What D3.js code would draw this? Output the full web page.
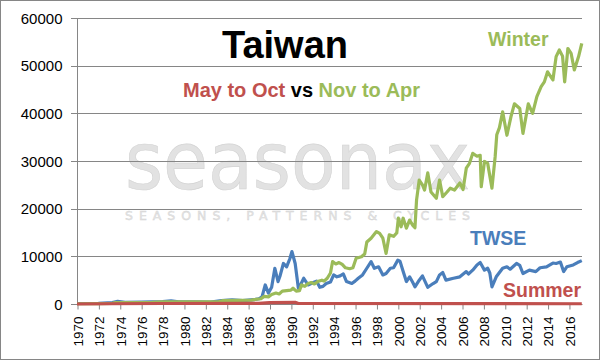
<!DOCTYPE html>
<html><head><meta charset="utf-8">
<script src="https://cdn.jsdelivr.net/npm/d3@7"></script>
<style>body{margin:0;background:#fff}svg{display:block}text{font-family:"Liberation Sans",Arial,sans-serif}</style>
</head><body><svg id="c" width="601" height="361"></svg>
<script>
const yTicks = [0,10000,20000,30000,40000,50000,60000];
const xTickYears = d3.range(1970, 2017, 2);

const twse = [[1970,100],[1972,150],[1973.3,300],[1973.8,550],[1974.5,350],[1976,400],[1978,500],[1978.8,650],[1979.5,450],[1981,450],[1982.5,400],[1983.5,700],[1984.5,850],[1985.5,700],[1986.5,900],[1987.0,1100],[1987.3,1500],[1987.6,4000],[1987.9,2300],[1988.2,3500],[1988.5,7500],[1988.8,4700],[1989.0,6000],[1989.3,8500],[1989.6,7800],[1989.9,9500],[1990.1,11000],[1990.4,8500],[1990.7,3300],[1990.9,4000],[1991.2,5400],[1991.6,4000],[1992.1,4500],[1992.4,4800],[1992.7,3500],[1993.0,3700],[1993.3,4300],[1993.7,4600],[1994.0,6100],[1994.3,5700],[1994.6,5900],[1994.9,6300],[1995.2,4700],[1995.7,4300],[1996.0,4800],[1996.3,5400],[1996.7,6100],[1997.1,7500],[1997.5,8900],[1997.8,7500],[1998.2,7800],[1998.6,6100],[1998.9,6400],[1999.3,7500],[1999.6,7600],[2000.0,9200],[2000.2,9000],[2000.5,6800],[2000.8,4700],[2001.1,5700],[2001.4,4500],[2001.6,3600],[2002.0,5000],[2002.3,5900],[2002.8,3500],[2003.3,4300],[2003.6,4700],[2003.9,6100],[2004.2,6600],[2004.5,5000],[2005.2,5400],[2005.8,5700],[2006.4,6800],[2006.6,6300],[2007.0,7100],[2007.4,8200],[2007.7,8700],[2008.1,7100],[2008.4,7500],[2008.6,6500],[2008.8,3600],[2009.2,5700],[2009.8,7500],[2010.2,7800],[2010.5,7300],[2011.1,8500],[2011.4,8100],[2011.7,6400],[2012.3,7100],[2012.9,6800],[2013.3,7600],[2013.9,7800],[2014.5,8600],[2014.8,8500],[2015.2,8800],[2015.5,6800],[2015.8,7800],[2016.4,8200],[2016.8,8700],[2017.2,9100]];

const winter = [[1970,50],[1972,80],[1973.3,150],[1973.6,300],[1975,300],[1977,350],[1978,450],[1980,450],[1982,450],[1983.3,500],[1983.6,700],[1985,750],[1986.3,800],[1986.8,1000],[1987.2,1100],[1987.5,1600],[1987.9,1500],[1988.2,2000],[1988.6,2300],[1988.9,2100],[1989.2,2700],[1989.6,2800],[1990.0,2900],[1990.2,3300],[1990.5,2700],[1990.8,2800],[1991.0,4000],[1991.3,3700],[1991.6,4300],[1991.9,4500],[1992.2,4200],[1992.5,4700],[1992.9,5000],[1993.1,4800],[1993.4,5400],[1993.7,6500],[1993.9,8900],[1994.2,8400],[1994.5,8700],[1994.8,8300],[1995.1,7600],[1995.5,7400],[1995.8,7600],[1996.1,9600],[1996.6,9900],[1996.9,10500],[1997.1,13000],[1997.5,13800],[1998.0,15200],[1998.3,14800],[1998.6,13800],[1998.9,10600],[1999.2,14500],[1999.6,14200],[1999.9,14900],[2000.05,18000],[2000.3,16200],[2000.5,18000],[2000.8,15900],[2001.1,17600],[2001.4,16500],[2001.6,16000],[2001.75,21800],[2002.0,26000],[2002.3,25000],[2002.5,23900],[2002.8,27500],[2003.1,23500],[2003.6,22200],[2003.9,26000],[2004.2,22500],[2004.6,23500],[2004.9,24300],[2005.3,23900],[2005.8,25400],[2006.1,24000],[2006.4,28500],[2006.7,29500],[2007.0,31600],[2007.4,31000],[2007.7,31200],[2007.8,24600],[2008.1,29900],[2008.4,29500],[2008.8,24300],[2009.1,30900],[2009.25,35500],[2009.5,37000],[2009.8,40300],[2010.2,35400],[2010.6,39500],[2010.9,42000],[2011.4,41000],[2011.7,35800],[2012.2,42000],[2012.6,40000],[2013.0,43500],[2013.4,45600],[2013.7,46600],[2014.0,48700],[2014.5,47000],[2014.8,51900],[2015.1,53300],[2015.4,52000],[2015.6,46600],[2015.9,53600],[2016.2,52600],[2016.5,49100],[2016.9,51900],[2017.2,54700]];

const summer = [[1970,0],[1973,50],[1978,100],[1987,150],[1988,300],[1990.4,350],[1990.7,100],[2017.2,50]];

const seriesNames = ["TWSE","Winter","Summer"];
const seriesColors = ["#4a7ebb","#9bbb59","#c0504d"];

const svg = d3.select("#c");
const x = d3.scaleLinear().domain([1970, 2017.22]).range([77, 582]);
const y = d3.scaleLinear().domain([0, 60000]).range([304, 18]);

svg.append("rect").attr("x",0.5).attr("y",0.5).attr("width",599).attr("height",359)
  .attr("fill","#fff").attr("stroke","#868686");

// watermark
svg.append("text").attr("x",125).attr("y",188.8).attr("textLength",345).attr("lengthAdjust","spacingAndGlyphs")
  .attr("font-size",80).attr("fill","#e2e2e2").attr("stroke","#d2d2d2").attr("stroke-width",0.6)
  .style("font-family","'DejaVu Sans'").text("seasonax");
svg.append("text").attr("x",125).attr("y",219.5).attr("textLength",345).attr("lengthAdjust","spacing")
  .attr("font-size",12.5).attr("fill","#e4e4e4").attr("stroke","#d4d4d4").attr("stroke-width",0.4)
  .style("font-family","'DejaVu Sans'").text("SEASONS, PATTERNS & CYCLES");

// gridlines
svg.append("g").selectAll("line").data(yTicks).join("line")
  .attr("x1",71).attr("x2",582).attr("y1",d=>Math.round(y(d))+0.5).attr("y2",d=>Math.round(y(d))+0.5)
  .attr("stroke","#868686").attr("stroke-width",1);

// y axis
const yAxis = svg.append("g").attr("transform","translate(77.5,0.5)")
  .call(d3.axisLeft(y).tickValues(yTicks).tickSize(6).tickPadding(9).tickFormat(d3.format("d")));
yAxis.select(".domain").attr("stroke","#868686").attr("d","M0,"+y(60000)+"V"+y(0));
yAxis.selectAll(".tick line").remove();
yAxis.selectAll("text").attr("font-size",15).attr("fill","#000").style("font-family","'Liberation Sans',Arial");

// x axis
const xAxis = svg.append("g").attr("transform","translate(0.5,304.5)")
  .call(d3.axisBottom(x).tickValues(xTickYears).tickSize(5).tickFormat(d3.format("d")));
xAxis.select(".domain").attr("stroke","#868686").attr("d","M77,0H582");
xAxis.selectAll(".tick line").attr("stroke","#868686");
xAxis.selectAll("text").attr("font-size",13.5).attr("fill","#000").style("font-family","'Liberation Sans',Arial")
  .attr("transform","rotate(-90)").attr("text-anchor","end").attr("dy","0.35em").attr("x",-12).attr("y",0);

// lines
const line = d3.line().x(d=>x(d[0])).y(d=>y(d[1]));
[twse, winter, summer].forEach((s,i)=>{
  svg.append("path").datum(s).attr("d",line).attr("fill","none")
    .attr("stroke",seriesColors[i]).attr("stroke-width",3.2).attr("stroke-linejoin","round");
});

// titles
svg.append("text").attr("x",285).attr("y",58).attr("text-anchor","middle")
  .attr("font-size",38).attr("font-weight","bold").attr("fill","#000").text("Taiwan");
const sub = svg.append("text").attr("x",183).attr("y",97).attr("font-size",20).attr("font-weight","bold");
sub.append("tspan").attr("fill","#c0504d").text("May to Oct ");
sub.append("tspan").attr("fill","#000").text("vs ");
sub.append("tspan").attr("fill","#9bbb59").text("Nov to Apr");

// series labels
const labels = [{t:seriesNames[1],x:488,y:46,c:seriesColors[1]},{t:seriesNames[0],x:470,y:245,c:seriesColors[0]},{t:seriesNames[2],x:503,y:297,c:seriesColors[2]}];
svg.append("g").selectAll("text").data(labels).join("text")
  .attr("x",d=>d.x).attr("y",d=>d.y).attr("font-size",19.5).attr("font-weight","bold")
  .attr("fill",d=>d.c).text(d=>d.t);
</script></body></html>
